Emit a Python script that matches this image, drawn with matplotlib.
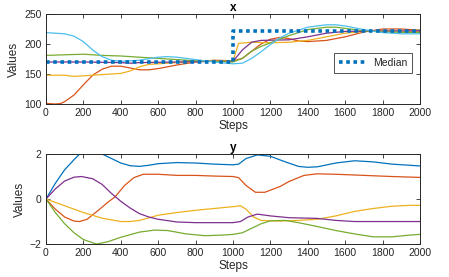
import matplotlib
matplotlib.use("Agg")
import matplotlib.pyplot as plt

plt.rcParams['font.family'] = ['Liberation Sans', 'DejaVu Sans']

# MATLAB default colour order
c_blue = '#0072BD'
c_orange = '#D95319'
c_yellow = '#EDB120'
c_purple = '#7E2F8E'
c_green = '#77AC30'
c_lblue = '#4DBEEE'

# ---- top plot ("x") ----
med_steps = [0, 1000, 1000, 2000]
med_vals = [170, 170, 221, 221]

x_orange_s = [0, 50, 80, 100, 150, 200, 250, 300, 350, 400, 450, 500, 550, 600, 700, 800, 900, 1000,
              1050, 1100, 1150, 1200, 1250, 1300, 1350, 1400, 1500, 1600, 1700, 1800, 1900, 2000]
x_orange_v = [101, 100, 101, 104, 115, 132, 148, 158, 163, 163, 160, 157, 157, 159, 165, 170, 173, 172,
              176, 188, 200, 208, 211, 209, 205, 204, 206, 212, 220, 225, 225, 223]

x_yellow_s = [0, 100, 150, 200, 300, 400, 450, 500, 550, 600, 700, 800, 900, 1000,
              1030, 1100, 1200, 1300, 1400, 1500, 1600, 1700, 1800, 2000]
x_yellow_v = [148, 148, 146, 147, 149, 151, 155, 162, 166, 167, 169, 171, 172, 172,
              201, 203, 202, 203, 206, 212, 218, 221, 222, 221]

x_purple_s = [0, 200, 400, 450, 500, 700, 900, 1000, 1050, 1100, 1150, 1300, 1400, 1500, 1600, 2000]
x_purple_v = [170, 170, 169, 168, 169, 170, 171, 171, 190, 203, 206, 207, 212, 218, 221, 222]

x_green_s = [0, 100, 200, 300, 400, 500, 600, 700, 800, 900, 1000, 1050, 1100, 1150, 1200, 1250,
             1300, 1400, 1500, 1550, 1600, 1700, 1800, 2000]
x_green_v = [181, 182, 183, 181, 180, 178, 176, 174, 172, 171, 170, 176, 188, 196, 202, 208,
             214, 224, 228, 228, 226, 222, 220, 219]

x_lblue_s = [0, 100, 150, 200, 250, 300, 350, 400, 500, 600, 650, 700, 800, 900, 1000, 1050, 1100,
             1150, 1200, 1250, 1300, 1400, 1500, 1550, 1600, 1700, 1800, 1900, 2000]
x_lblue_v = [219, 217, 213, 204, 190, 179, 173, 171, 173, 178, 179, 178, 174, 170, 167, 168, 176,
             187, 199, 210, 218, 228, 232, 232, 230, 224, 219, 217, 217]

# ---- bottom plot ("y") ----
y_blue_s = [0, 50, 100, 150, 180, 240, 300, 350, 400, 450, 500, 550, 600, 700, 800, 900, 1000, 1030,
            1070, 1130, 1200, 1280, 1350, 1400, 1450, 1550, 1650, 1750, 1850, 2000]
y_blue_v = [0, 0.7, 1.3, 1.75, 2.0, 2.2, 2.0, 1.8, 1.6, 1.48, 1.45, 1.5, 1.57, 1.62, 1.6, 1.55, 1.52, 1.55,
            1.8, 1.96, 1.9, 1.65, 1.45, 1.41, 1.43, 1.6, 1.7, 1.65, 1.55, 1.47]

y_orange_s = [0, 50, 100, 150, 180, 220, 280, 330, 370, 420, 470, 520, 600, 700, 800, 900, 1000, 1030,
              1070, 1120, 1170, 1250, 1300, 1380, 1450, 1550, 1700, 1850, 2000]
y_orange_v = [0, -0.45, -0.8, -0.98, -1.0, -0.9, -0.5, -0.15, 0.1, 0.6, 0.95, 1.1, 1.1, 1.05, 1.05, 1.02, 1.0, 0.95,
              0.6, 0.3, 0.3, 0.55, 0.78, 1.05, 1.12, 1.1, 1.05, 1.0, 0.96]

y_yellow_s = [0, 100, 200, 300, 400, 450, 500, 600, 700, 800, 900, 1000, 1040, 1070, 1110, 1150,
              1250, 1350, 1450, 1550, 1650, 1750, 1850, 1950, 2000]
y_yellow_v = [0, -0.3, -0.6, -0.85, -1.0, -1.0, -0.95, -0.72, -0.6, -0.5, -0.42, -0.34, -0.3, -0.45, -0.8, -0.95,
              -0.98, -0.95, -0.9, -0.75, -0.55, -0.42, -0.32, -0.28, -0.28]

y_purple_s = [0, 50, 100, 150, 190, 250, 300, 350, 400, 450, 500, 550, 600, 700, 800, 1000, 1040,
              1080, 1130, 1200, 1300, 1450, 1550, 1650, 2000]
y_purple_v = [0, 0.45, 0.8, 0.97, 1.0, 0.9, 0.65, 0.25, -0.1, -0.4, -0.65, -0.8, -0.9, -1.02, -1.05, -1.05, -1.0,
              -0.8, -0.67, -0.75, -0.83, -0.86, -0.95, -1.0, -1.0]

y_green_s = [0, 50, 100, 150, 200, 270, 330, 400, 500, 580, 650, 750, 850, 950, 1000, 1050, 1100, 1150,
             1200, 1280, 1350, 1450, 1550, 1650, 1750, 1850, 1950, 2000]
y_green_v = [0, -0.6, -1.1, -1.5, -1.8, -2.0, -1.9, -1.7, -1.47, -1.38, -1.4, -1.55, -1.63, -1.6, -1.57, -1.5, -1.3, -1.1,
             -0.97, -0.95, -1.05, -1.22, -1.4, -1.55, -1.68, -1.68, -1.6, -1.57]

xticks = list(range(0, 2001, 200))
axcol = '#262626'

fig = plt.figure(figsize=(4.49, 2.77), dpi=100)
ax1 = fig.add_axes([0.1024, 0.6245, 0.833, 0.325])
ax2 = fig.add_axes([0.1024, 0.119, 0.833, 0.325])

lw = 0.9
ax1.plot(x_orange_s, x_orange_v, color=c_orange, lw=lw)
ax1.plot(x_yellow_s, x_yellow_v, color=c_yellow, lw=lw)
ax1.plot(x_purple_s, x_purple_v, color=c_purple, lw=lw)
ax1.plot(x_green_s, x_green_v, color=c_green, lw=lw)
ax1.plot(x_lblue_s, x_lblue_v, color=c_lblue, lw=lw)
ax1.plot(med_steps, med_vals, color=c_blue, lw=2.6, linestyle=(0, (1, 1)), label='Median')
ax1.set_ylim(100, 250)
ax1.set_yticks([100, 150, 200, 250])

ax2.plot(y_blue_s, y_blue_v, color=c_blue, lw=lw)
ax2.plot(y_orange_s, y_orange_v, color=c_orange, lw=lw)
ax2.plot(y_yellow_s, y_yellow_v, color=c_yellow, lw=lw)
ax2.plot(y_purple_s, y_purple_v, color=c_purple, lw=lw)
ax2.plot(y_green_s, y_green_v, color=c_green, lw=lw)
ax2.set_ylim(-2, 2)
ax2.set_yticks([-2, 0, 2])

for ax, title in ((ax1, 'x'), (ax2, 'y')):
    ax.set_xlim(0, 2000)
    ax.set_xticks(xticks)
    ax.tick_params(direction='in', length=3, width=0.6, top=True, right=True,
                   labelsize=7.5, colors=axcol, pad=3)
    for s in ax.spines.values():
        s.set_linewidth(0.7)
        s.set_color(axcol)
    ax.set_xlabel('Steps', fontsize=8.5, color=axcol, labelpad=1)
    ax.set_ylabel('Values', fontsize=8.5, color=axcol, labelpad=3)
    ax.set_title(title, fontsize=8.5, fontweight='bold', color='black', pad=2)

leg = ax1.legend(loc='center', bbox_to_anchor=(0.875, 0.456), fontsize=7.5, frameon=True,
                 fancybox=False, handlelength=2.6, borderpad=0.45, handletextpad=0.7)
leg.get_frame().set_edgecolor(axcol)
leg.get_frame().set_linewidth(0.7)
for t in leg.get_texts():
    t.set_color(axcol)

fig.savefig('out.png', dpi=100)
